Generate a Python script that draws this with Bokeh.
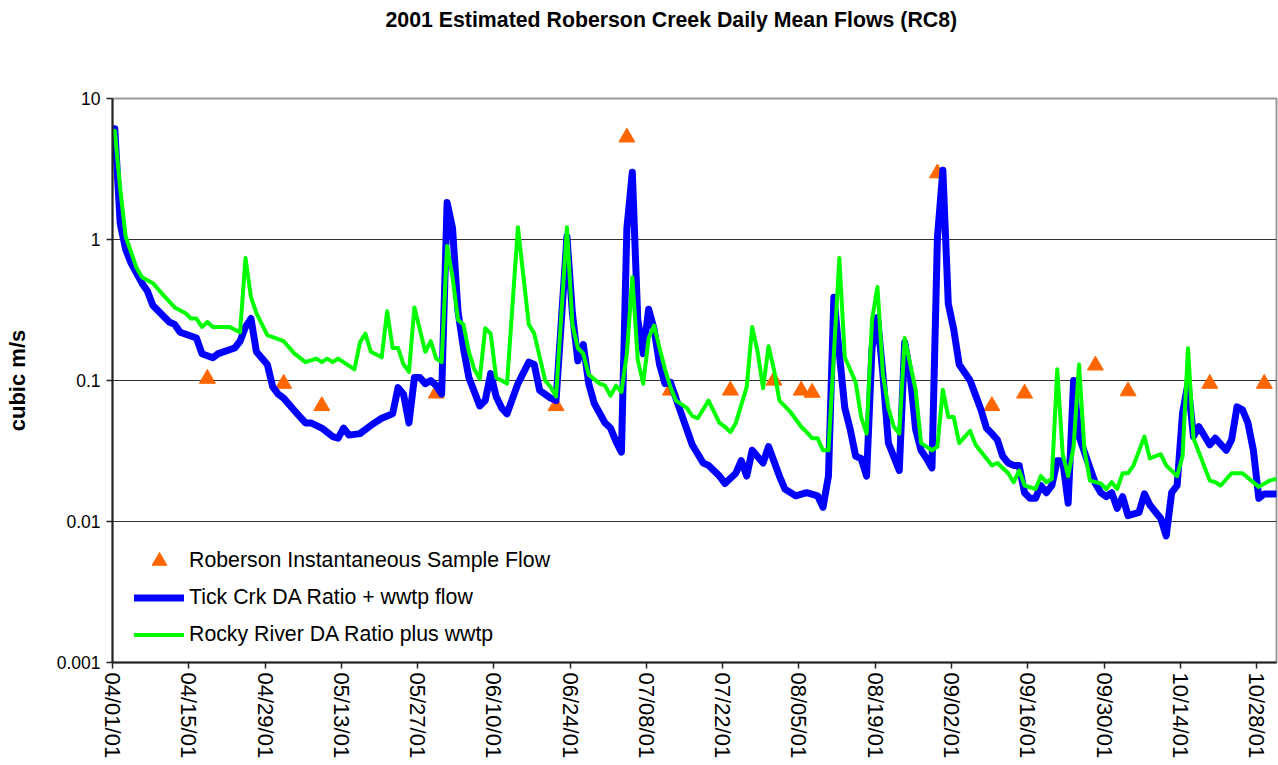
import pandas as pd
from bokeh.plotting import figure
from bokeh.models import (Range1d, FixedTicker, DatetimeTickFormatter, CustomJSTickFormatter,
                          Legend, LegendItem, ColumnDataSource, Title)
from bokeh.embed import file_html
from bokeh.resources import INLINE

TITLE = "2001 Estimated Roberson Creek Daily Mean Flows (RC8)"
Y_LABEL = "cubic m/s"
START_DATE = "2001-04-01"

X_TICK_LABELS = ["04/01/01", "04/15/01", "04/29/01", "05/13/01", "05/27/01", "06/10/01",
                 "06/24/01", "07/08/01", "07/22/01", "08/05/01", "08/19/01", "09/02/01",
                 "09/16/01", "09/30/01", "10/14/01", "10/28/01"]
Y_TICKS = [0.001, 0.01, 0.1, 1, 10]
Y_TICK_LABELS = ["0.001", "0.01", "0.1", "1", "10"]

SERIES_NAMES = ["Roberson Instantaneous Sample Flow",
                "Tick Crk DA Ratio + wwtp flow",
                "Rocky River DA Ratio plus wwtp"]

SAMPLE_DATES = ["04/18/01", "05/02/01", "05/09/01", "05/30/01", "06/21/01", "07/04/01",
                "07/12/01", "07/23/01", "07/31/01", "08/05/01", "08/07/01", "08/30/01",
                "09/09/01", "09/15/01", "09/28/01", "10/04/01", "10/19/01", "10/29/01"]
SAMPLE_FLOW = [0.103, 0.095, 0.066, 0.081, 0.066, 5.3, 0.085, 0.085, 0.1, 0.085, 0.082, 2.95,
               0.066, 0.081, 0.128, 0.084, 0.095, 0.095]

# days since 04/01/01
TICK_DAYS = [0, 1, 2, 3, 5, 6, 7, 10, 11, 12, 15, 16, 18, 19, 22, 23, 24, 25, 26, 28,
             29, 30, 31, 33, 35, 36, 38, 40, 41, 42, 43, 45, 47, 49, 51, 52, 53, 54, 55, 56,
             57, 58, 59, 60, 61, 62, 63, 64, 65, 67, 68, 69, 70, 71, 72, 74, 76, 77, 78, 80,
             81, 83, 84, 85, 86, 87, 88, 90, 91, 92, 93, 94, 95, 96, 97, 98, 99, 100, 101, 102,
             104, 106, 108, 109, 111, 112, 114, 115, 116, 117, 119, 120, 122, 123, 125, 127, 129, 130, 131, 132,
             133, 134, 135, 136, 137, 138, 139, 140, 141, 142, 144, 145, 146, 147, 148, 149, 150, 151, 152, 153,
             154, 155, 157, 159, 160, 161, 162, 163, 164, 165, 166, 167, 168, 169, 170, 171, 172, 173, 174, 175,
             176, 177, 179, 180, 181, 182, 183, 184, 185, 186, 188, 189, 190, 192, 193, 194, 195, 196, 197, 198,
             199, 201, 202, 204, 205, 206, 207, 208, 209, 210, 211, 213]
TICK_FLOW = [6.1, 1.3, 0.85, 0.68, 0.49, 0.43, 0.34, 0.26, 0.25, 0.22, 0.20, 0.155, 0.145, 0.155, 0.17, 0.19, 0.24, 0.275, 0.16, 0.13,
             0.09, 0.08, 0.075, 0.061, 0.05, 0.05, 0.046, 0.040, 0.039, 0.046, 0.041, 0.042, 0.048, 0.054, 0.058, 0.089, 0.08, 0.05, 0.105, 0.105,
             0.095, 0.1, 0.092, 0.08, 1.83, 1.2, 0.31, 0.17, 0.105, 0.066, 0.072, 0.112, 0.077, 0.064, 0.058, 0.095, 0.135, 0.13, 0.085, 0.075,
             0.072, 1.05, 0.3, 0.138, 0.18, 0.095, 0.069, 0.05, 0.046, 0.037, 0.031, 1.2, 3.0, 0.27, 0.155, 0.32, 0.23, 0.13, 0.095, 0.097,
             0.058, 0.035, 0.026, 0.025, 0.021, 0.0186, 0.022, 0.027, 0.021, 0.032, 0.026, 0.034, 0.021, 0.017, 0.0152, 0.016, 0.0152, 0.0126, 0.021, 0.39,
             0.155, 0.064, 0.045, 0.029, 0.028, 0.021, 0.17, 0.28, 0.11, 0.036, 0.023, 0.186, 0.11, 0.045, 0.032, 0.028, 0.024, 1.03, 3.1, 0.35,
             0.23, 0.13, 0.1, 0.062, 0.046, 0.042, 0.038, 0.029, 0.026, 0.025, 0.025, 0.016, 0.0146, 0.0146, 0.018, 0.016, 0.018, 0.027, 0.027, 0.0135,
             0.1, 0.04, 0.024, 0.0186, 0.016, 0.015, 0.016, 0.0124, 0.015, 0.011, 0.0116, 0.0157, 0.0131, 0.0105, 0.0079, 0.016, 0.018, 0.059, 0.095, 0.04,
             0.047, 0.035, 0.039, 0.032, 0.038, 0.065, 0.062, 0.05, 0.032, 0.0146, 0.0157, 0.0157]

ROCKY_DAYS = [0, 1, 2, 4, 5, 7, 9, 11, 13, 14, 15, 16, 17, 18, 21, 23, 24, 25, 26, 28,
              31, 33, 35, 37, 38, 39, 40, 41, 44, 45, 46, 47, 49, 50, 51, 52, 53, 54, 55, 57,
              58, 59, 60, 61, 62, 63, 64, 65, 66, 67, 68, 69, 70, 71, 72, 74, 76, 77, 79, 80,
              81, 83, 84, 85, 86, 87, 89, 90, 91, 92, 93, 94, 95, 96, 97, 98, 99, 100, 101, 102,
              103, 105, 106, 107, 109, 111, 112, 113, 114, 116, 117, 118, 119, 120, 121, 122, 124, 126, 127, 128,
              129, 130, 131, 133, 134, 136, 137, 138, 139, 140, 141, 142, 143, 144, 145, 147, 148, 149, 150, 151,
              152, 153, 154, 155, 157, 158, 160, 161, 162, 164, 165, 166, 167, 169, 170, 171, 172, 173, 174, 175,
              176, 177, 178, 179, 181, 182, 183, 184, 185, 186, 187, 189, 190, 192, 193, 195, 196, 197, 198, 201,
              202, 203, 205, 207, 210, 212, 213]
ROCKY_FLOW = [5.9, 2.3, 1.05, 0.63, 0.54, 0.49, 0.40, 0.33, 0.30, 0.275, 0.275, 0.24, 0.26, 0.24, 0.24, 0.22, 0.74, 0.39, 0.30, 0.21,
              0.19, 0.155, 0.135, 0.143, 0.135, 0.143, 0.135, 0.143, 0.12, 0.186, 0.215, 0.16, 0.146, 0.31, 0.17, 0.17, 0.13, 0.115, 0.33, 0.16,
              0.19, 0.143, 0.135, 0.9, 0.54, 0.27, 0.25, 0.16, 0.12, 0.103, 0.235, 0.215, 0.105, 0.1, 0.095, 1.22, 0.25, 0.215, 0.1, 0.09,
              0.077, 1.22, 0.25, 0.17, 0.155, 0.11, 0.095, 0.092, 0.078, 0.092, 0.083, 0.155, 0.54, 0.14, 0.095, 0.2, 0.245, 0.17, 0.12, 0.09,
              0.072, 0.064, 0.056, 0.054, 0.072, 0.05, 0.047, 0.043, 0.05, 0.09, 0.24, 0.16, 0.088, 0.175, 0.12, 0.072, 0.06, 0.047, 0.043, 0.039,
              0.039, 0.032, 0.032, 0.74, 0.146, 0.097, 0.055, 0.042, 0.27, 0.46, 0.11, 0.064, 0.047, 0.042, 0.2, 0.086, 0.036, 0.034, 0.032, 0.034,
              0.086, 0.055, 0.055, 0.036, 0.044, 0.035, 0.028, 0.025, 0.026, 0.022, 0.019, 0.023, 0.018, 0.017, 0.021, 0.019, 0.020, 0.12, 0.03, 0.021,
              0.034, 0.13, 0.032, 0.0195, 0.0186, 0.017, 0.019, 0.017, 0.022, 0.022, 0.025, 0.04, 0.028, 0.030, 0.025, 0.021, 0.029, 0.169, 0.039, 0.0195,
              0.019, 0.018, 0.022, 0.022, 0.0176, 0.0195, 0.020]

# ---- build ----
start = pd.Timestamp(START_DATE)
slot = pd.Timedelta(hours=10)   # points sit inside their day slot, as in the original chart


def day_x(days):
    return start + pd.to_timedelta(days, unit="D") + slot


sample_x = pd.to_datetime(SAMPLE_DATES, format="%m/%d/%y") + slot
tick_dates = pd.to_datetime(X_TICK_LABELS, format="%m/%d/%y")
tick_ms = [(t - pd.Timestamp("1970-01-01")) // pd.Timedelta(milliseconds=1) for t in tick_dates]

src_s = ColumnDataSource(dict(x=sample_x, y=SAMPLE_FLOW))
src_t = ColumnDataSource(dict(x=day_x(TICK_DAYS), y=TICK_FLOW))
src_r = ColumnDataSource(dict(x=day_x(ROCKY_DAYS), y=ROCKY_FLOW))

FONT = "Liberation Sans"

p = figure(width=1278, height=765, x_axis_type="datetime", y_axis_type="log",
           x_range=Range1d(start, start + pd.Timedelta(days=213.66)),
           y_range=Range1d(Y_TICKS[0], Y_TICKS[-1]),
           output_backend="svg", toolbar_location=None,
           min_border_left=112, min_border_right=2, min_border_top=98, min_border_bottom=103)

# real title (outer) + spacer title (inner, next to the frame)
p.title.text = TITLE
p.title.text_font = FONT
p.title.text_font_size = "21.3px"
p.title.text_font_style = "bold"
p.title.text_color = "black"
p.title.align = "left"
p.title.offset = 273
p.title.standoff = 10
p.add_layout(Title(text=" ", text_font_size="10px", standoff=49), "above")

p.background_fill_color = "white"
p.border_fill_color = "white"
p.outline_line_color = "#999999"
p.outline_line_width = 2

# y axis
yt = FixedTicker(ticks=Y_TICKS, minor_ticks=[])
p.yaxis.ticker = yt
p.ygrid.ticker = yt
p.yaxis.formatter = CustomJSTickFormatter(args=dict(vals=Y_TICKS, labs=Y_TICK_LABELS), code="""
    let best = 0, bd = 1e9;
    for (let i = 0; i < vals.length; i++) {
        const d = Math.abs(Math.log10(vals[i]) - Math.log10(tick));
        if (d < bd) { bd = d; best = i; }
    }
    return labs[best];
""")
p.yaxis.axis_label = Y_LABEL
p.yaxis.axis_label_text_font = FONT
p.yaxis.axis_label_text_font_size = "22px"
p.yaxis.axis_label_text_font_style = "bold"
p.yaxis.axis_label_text_color = "black"
p.yaxis.axis_label_standoff = 24
p.yaxis.major_label_text_font = FONT
p.yaxis.major_label_text_font_size = "17.5px"
p.yaxis.major_label_text_color = "black"
p.yaxis.major_label_standoff = 6
p.yaxis.major_tick_out = 6
p.yaxis.major_tick_in = 0
p.yaxis.minor_tick_line_color = None
p.yaxis.axis_line_color = "#222222"
p.yaxis.axis_line_width = 2
p.yaxis.major_tick_line_color = "#222222"
p.yaxis.major_tick_line_width = 1.5

# x axis
xt = FixedTicker(ticks=tick_ms, minor_ticks=[])
p.xaxis.ticker = xt
fmt = "%m/%d/%y"
p.xaxis.formatter = DatetimeTickFormatter(milliseconds=fmt, seconds=fmt, minsec=fmt, minutes=fmt,
                                          hourmin=fmt, hours=fmt, days=fmt, months=fmt, years=fmt)
p.xaxis.major_label_orientation = "vertical"
p.xaxis.major_label_text_font = FONT
p.xaxis.major_label_text_font_size = "22px"
p.xaxis.major_label_text_color = "black"
p.xaxis.major_label_standoff = 4
p.xaxis.major_tick_out = 6
p.xaxis.major_tick_in = 0
p.xaxis.minor_tick_line_color = None
p.xaxis.axis_line_color = "#222222"
p.xaxis.axis_line_width = 2
p.xaxis.major_tick_line_color = "#222222"
p.xaxis.major_tick_line_width = 1.5

p.xgrid.grid_line_color = None
p.ygrid.grid_line_color = "#333333"
p.ygrid.grid_line_width = 1

r_s = p.scatter("x", "y", source=src_s, marker="triangle", size=16,
                fill_color="#FF6600", line_color="#FF6600")
r_t = p.line("x", "y", source=src_t, line_color="#0000FF", line_width=7,
             line_join="round", line_cap="round")
r_r = p.line("x", "y", source=src_r, line_color="#00FF00", line_width=4,
             line_join="round", line_cap="round")

legend = Legend(items=[LegendItem(label=SERIES_NAMES[0], renderers=[r_s]),
                       LegendItem(label=SERIES_NAMES[1], renderers=[r_t]),
                       LegendItem(label=SERIES_NAMES[2], renderers=[r_r])],
                location=(22, 9), orientation="vertical",
                border_line_color=None, background_fill_alpha=0,
                label_text_font=FONT, label_text_font_size="21.3px", label_text_color="black",
                glyph_width=50, glyph_height=37, label_height=26,
                label_standoff=5, spacing=0, padding=5, margin=0)
p.add_layout(legend)

open("out.html", "w").write(file_html(p, INLINE))
